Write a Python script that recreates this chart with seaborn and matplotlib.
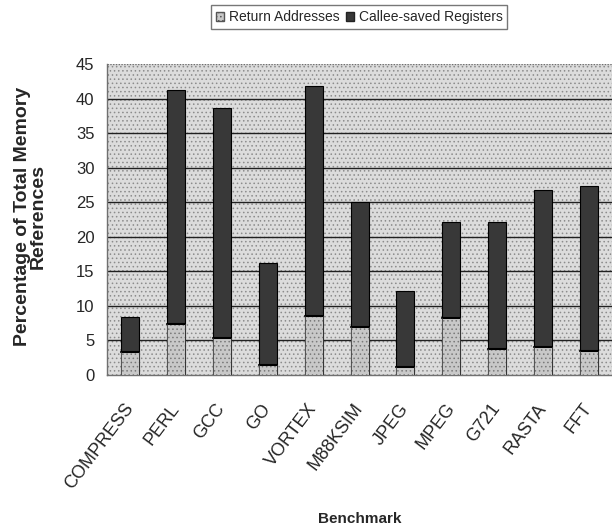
import numpy as np
import pandas as pd
import matplotlib
matplotlib.use("Agg")
import matplotlib.pyplot as plt
import seaborn as sns
from matplotlib.patches import Rectangle, Patch

benchmarks = ["COMPRESS", "PERL", "GCC", "GO", "VORTEX", "M88KSIM",
              "JPEG", "MPEG", "G721", "RASTA", "FFT"]
return_addresses = [3.3, 7.4, 5.4, 1.5, 8.5, 7.0, 1.2, 8.2, 3.7, 4.0, 3.4]
callee_saved = [5.1, 33.9, 33.2, 14.7, 33.4, 18.0, 11.0, 14.0, 18.5, 22.8, 23.9]
y_ticks = [0, 5, 10, 15, 20, 25, 30, 35, 40, 45]

df = pd.DataFrame({
    "Benchmark": benchmarks,
    "Return Addresses": return_addresses,
    "Callee-saved Registers": callee_saved,
})
df["Total"] = df["Return Addresses"] + df["Callee-saved Registers"]

sns.set_style("white")
plt.rcParams["font.family"] = ["Liberation Sans", "DejaVu Sans"]
plt.rcParams["hatch.linewidth"] = 0.6

light = "#c8c8c8"
dark = "#383838"

fig = plt.figure(figsize=(6.12, 5.31), dpi=100)
ax = fig.add_axes([0.175, 0.294, 0.825, 0.585])

# dotted plot-area background
ax.set_facecolor("#dcdcdc")
ax.add_patch(Rectangle((0, 0), 1, 1, transform=ax.transAxes, facecolor="none",
                       edgecolor="#8c8c8c", hatch="....", lw=0, zorder=0))

for y in y_ticks[1:-1]:
    ax.axhline(y, color="#202020", lw=1.0, zorder=1)
ax.axhline(45, color="#707070", lw=1.0, ls=(0, (1, 1)), zorder=1)

# stacked bars: total first (dark), return addresses on top (light)
sns.barplot(data=df, x="Benchmark", y="Total", color=dark, width=0.39,
            edgecolor="black", linewidth=0.8, saturation=1, ax=ax, zorder=2)
sns.barplot(data=df, x="Benchmark", y="Return Addresses", color=light, width=0.39,
            edgecolor="black", linewidth=0.8, saturation=1, ax=ax, zorder=3)
for p in ax.patches[-len(benchmarks):]:
    p.set_hatch("....")
    p.set_edgecolor("#7a7a7a")
    p.set_linewidth(0)
for i, v in enumerate(return_addresses):
    ax.plot([i - 0.195, i + 0.195], [v, v], color="black", lw=1.5, zorder=4)
    ax.plot([i - 0.195, i - 0.195], [0, v], color="#404040", lw=0.6, zorder=4)
    ax.plot([i + 0.195, i + 0.195], [0, v], color="#404040", lw=0.6, zorder=4)

ax.set_xlim(-0.5, len(benchmarks) - 0.5)
ax.set_ylim(0, 45)
ax.set_yticks(y_ticks)
ax.tick_params(axis="y", length=5, width=0.8, color="#606060", labelsize=12, pad=4)
ax.set_xticks(range(len(benchmarks)))
ax.set_xticklabels(benchmarks, rotation=53, ha="right", va="center",
                   rotation_mode="anchor", fontsize=13)
ax.tick_params(axis="x", length=0, pad=22)
ax.set_xticks(np.arange(-0.5, len(benchmarks)), minor=True)
ax.tick_params(axis="x", which="minor", length=5, width=0.8, color="#606060")

for s in ["top", "right"]:
    ax.spines[s].set_visible(False)
for s in ["left", "bottom"]:
    ax.spines[s].set_color("#707070")
    ax.spines[s].set_linewidth(1.0)

ax.set_ylabel("Percentage of Total Memory\nReferences", fontsize=14,
              fontweight="bold", linespacing=0.95)
ax.yaxis.set_label_coords(-0.119, 0.51)
ax.set_xlabel("Benchmark", fontsize=11, fontweight="bold", va="top")
ax.xaxis.set_label_coords(0.50, -0.44)

handles = [Patch(facecolor=light, edgecolor="#555555", hatch="...."),
           Patch(facecolor=dark, edgecolor="#222222")]
fig.legend(handles, ["Return Addresses", "Callee-saved Registers"], ncol=2,
           loc="center", bbox_to_anchor=(0.587, 0.968), fontsize=10,
           frameon=True, fancybox=False, edgecolor="#555555",
           handlelength=0.6, handleheight=0.6, handletextpad=0.3,
           columnspacing=0.5, borderpad=0.35, borderaxespad=0)

fig.savefig("out.png", dpi=100)
